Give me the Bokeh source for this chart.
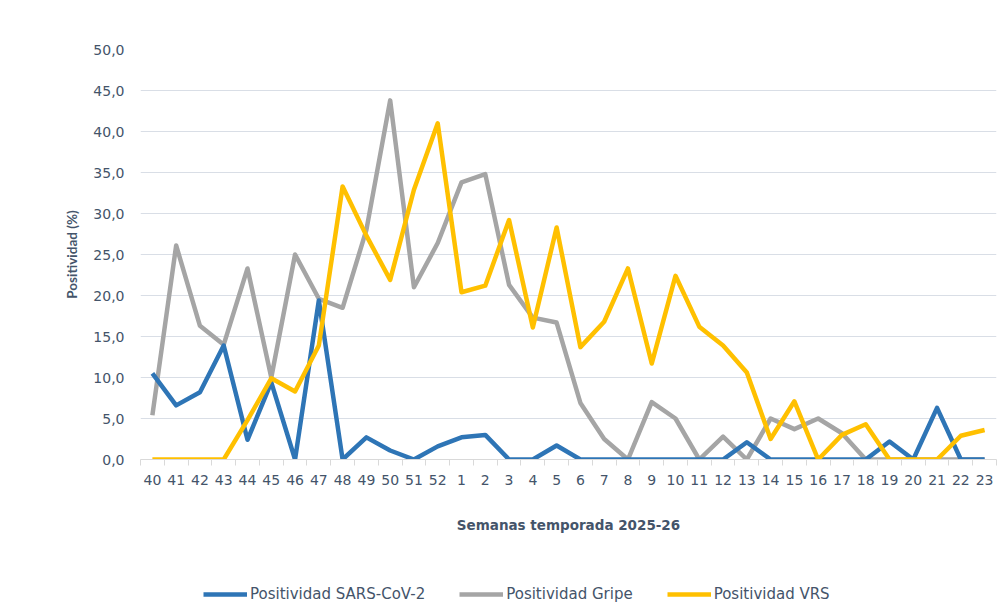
from bokeh.plotting import figure
from bokeh.layouts import column
from bokeh.models import (ColumnDataSource, FixedTicker, Range1d, Legend, LegendItem)
from bokeh.embed import file_html
from bokeh.resources import INLINE

weeks = [str(w) for w in range(40, 53)] + [str(w) for w in range(1, 24)]

sars = [10.5, 6.6, 8.2, 13.9, 2.4, 9.4, 0.0, 19.4, 0.0, 2.7, 1.1, 0.0, 1.6,
        2.7, 3.0, 0.0, 0.0, 1.7, 0.0, 0.0, 0.0, 0.0, 0.0, 0.0, 0.0, 2.1, 0.0,
        0.0, 0.0, 0.0, 0.0, 2.2, 0.0, 6.3, 0.0, 0.0]
gripe = [5.4, 26.1, 16.3, 14.0, 23.3, 10.0, 25.0, 19.6, 18.5, 28.0, 43.8, 21.0, 26.4,
         33.8, 34.8, 21.3, 17.3, 16.7, 6.9, 2.5, 0.0, 7.0, 5.0, 0.0, 2.8, 0.0, 5.0,
         3.7, 5.0, 3.2, 0.0, 0.0, 0.0, 0.0, 0.0, 0.0]
vrs = [0.0, 0.0, 0.0, 0.0, 4.8, 9.9, 8.3, 13.9, 33.3, 27.3, 21.9, 32.9, 41.0,
       20.4, 21.2, 29.2, 16.1, 28.3, 13.7, 16.8, 23.3, 11.7, 22.4, 16.2, 13.9, 10.6, 2.5,
       7.1, 0.0, 3.0, 4.3, 0.0, 0.0, 0.0, 2.9, 3.6]

y_ticks = [0, 5, 10, 15, 20, 25, 30, 35, 40, 45, 50]
y_tick_labels = ["0,0", "5,0", "10,0", "15,0", "20,0", "25,0", "30,0", "35,0", "40,0", "45,0", "50,0"]

series_names = ["Positividad SARS-CoV-2", "Positividad Gripe", "Positividad VRS"]
colors = ["#2E75B6", "#A5A5A5", "#FFC000"]

x_idx = list(range(len(weeks)))
src = ColumnDataSource(dict(x=x_idx, sars=sars, gripe=gripe, vrs=vrs))

TEXT = "#44546A"
LW = 4.5

p = figure(width=1000, height=537, output_backend="svg", toolbar_location=None,
           x_range=Range1d(-0.5, len(weeks) - 0.5), y_range=Range1d(0, 50),
           min_border_left=140, min_border_right=4, min_border_top=49,
           min_border_bottom=78)
p.outline_line_color = None
p.background_fill_color = "white"
p.border_fill_color = "white"

r_g = p.line("x", "gripe", source=src, line_color=colors[1], line_width=LW, line_join="round")
r_s = p.line("x", "sars", source=src, line_color=colors[0], line_width=LW, line_join="round")
r_v = p.line("x", "vrs", source=src, line_color=colors[2], line_width=LW, line_join="round")

# x axis
xa = p.xaxis[0]
xa.ticker = FixedTicker(ticks=x_idx, minor_ticks=[i - 0.5 for i in range(len(weeks) + 1)])
xa.major_label_overrides = {i: w for i, w in enumerate(weeks)}
xa.major_tick_out = 0
xa.major_tick_in = 0
xa.minor_tick_out = 6
xa.minor_tick_in = 0
xa.minor_tick_line_color = "#D9D9D9"
xa.axis_line_color = "#D9D9D9"
xa.major_label_text_font = "DejaVu Sans"
xa.major_label_text_font_size = "14px"
xa.major_label_text_color = TEXT
xa.major_label_standoff = 9
xa.axis_label = "Semanas temporada 2025-26"
xa.axis_label_text_font = "DejaVu Sans"
xa.axis_label_text_font_style = "bold"
xa.axis_label_text_font_size = "13.5px"
xa.axis_label_text_color = TEXT
xa.axis_label_standoff = 29

# y axis
ya = p.yaxis[0]
ya.ticker = FixedTicker(ticks=y_ticks)
ya.major_label_overrides = {t: l for t, l in zip(y_ticks, y_tick_labels)}
ya.major_tick_out = 0
ya.major_tick_in = 0
ya.minor_tick_out = 0
ya.minor_tick_in = 0
ya.axis_line_color = None
ya.major_label_text_font = "DejaVu Sans"
ya.major_label_text_font_size = "14px"
ya.major_label_text_color = TEXT
ya.major_label_standoff = 16
ya.axis_label = "Positividad (%)"
ya.axis_label_text_font = "Lato"
ya.axis_label_text_font_style = "bold"
ya.axis_label_text_font_size = "13.5px"
ya.axis_label_text_color = TEXT
ya.axis_label_standoff = 10

p.xgrid.grid_line_color = None
p.ygrid.ticker = FixedTicker(ticks=y_ticks)
p.ygrid.grid_line_color = "#D9DEE6"
p.ygrid.grid_line_width = 1

# legend strip (same series, drawn out of view so only the legend shows)
lf = figure(width=1000, height=70, output_backend="svg", toolbar_location=None,
            x_range=Range1d(-0.5, len(weeks) - 0.5), y_range=Range1d(-300, -200),
            min_border=0)
lf.axis.visible = False
lf.grid.visible = False
lf.outline_line_color = None
lf.background_fill_color = "white"
lf.border_fill_color = "white"
l_s = lf.line("x", "sars", source=src, line_color=colors[0], line_width=LW)
l_g = lf.line("x", "gripe", source=src, line_color=colors[1], line_width=LW)
l_v = lf.line("x", "vrs", source=src, line_color=colors[2], line_width=LW)

legend = Legend(items=[LegendItem(label=series_names[0], renderers=[l_s]),
                       LegendItem(label=series_names[1], renderers=[l_g]),
                       LegendItem(label=series_names[2], renderers=[l_v])],
                orientation="horizontal", location=(63, 3))
legend.label_text_font = "DejaVu Sans"
legend.label_text_font_size = "15px"
legend.label_text_color = TEXT
legend.glyph_width = 44
legend.label_standoff = 3
legend.spacing = 34
legend.border_line_color = None
legend.background_fill_alpha = 0
legend.padding = 4
legend.margin = 0
lf.add_layout(legend, "center")

layout = column(p, lf, spacing=0)
open("out.html", "w").write(file_html(layout, INLINE))
